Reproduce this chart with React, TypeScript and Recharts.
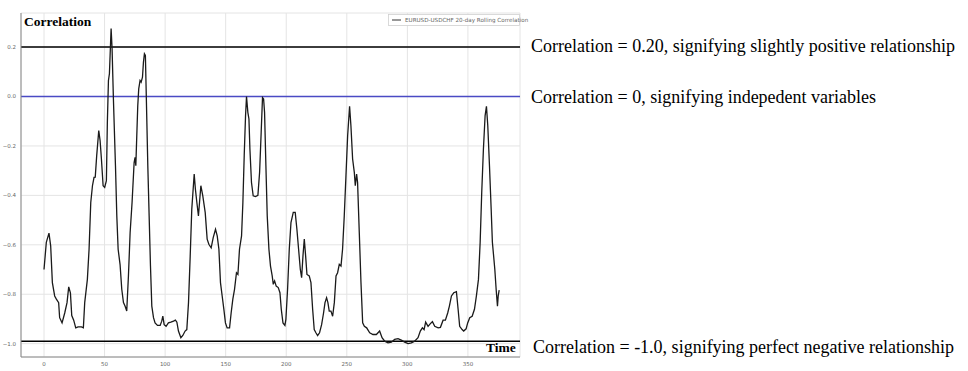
import { LineChart, Line, XAxis, YAxis, CartesianGrid, ReferenceLine } from "recharts";

// 20-day rolling correlation (time step, value)
const timeSteps = [
  0, 1.9, 4.1, 5.5, 6.9, 8.8, 10.2, 12.1, 12.9, 14.9, 17.1, 19, 20.4, 21.8, 22.9, 24.5, 26.2, 28.1, 30.9, 32.5,
  33.6, 35.8, 37.2, 38.6, 40, 41.3, 42.3, 43.5, 45.2, 46.3, 47.4, 48.8, 50.1, 51.5, 52.3, 53.2, 54, 55.4, 56.2, 57.3,
  59, 60.1, 61.2, 62.8, 64.2, 65.6, 66.9, 68.3, 69.7, 71.1, 72.7, 74.4, 75.2, 75.8, 76.6, 77.4, 78.2, 79.3, 80.2, 81.3,
  82.1, 82.9, 83.7, 84.5, 85.7, 86.8, 87.9, 89, 90.4, 91.7, 93.7, 95.9, 97.2, 98.1, 99.2, 100.8, 102.7, 104.7, 106.9, 108.5,
  109.7, 111, 113, 114.6, 116.5, 117.9, 119.3, 120.7, 122, 124, 125, 126.2, 127.5, 128.4, 129.5, 131.1, 133.1, 134.7, 136.1, 138,
  139.7, 141.6, 143, 144.4, 145.7, 147.1, 148.5, 149.8, 151.2, 153.2, 154.5, 155.9, 157.3, 158.9, 160.1, 161.4, 163.1, 164.2, 165.3, 166.4,
  167.2, 168.3, 169.2, 170, 171.3, 172.7, 174.6, 176.6, 178, 179.3, 180.4, 181.3, 182.1, 183.2, 184.3, 185.7, 187, 188.4, 189.3, 190.4,
  191.7, 193.4, 194.8, 195.9, 197.3, 198.9, 199.7, 201.1, 202.5, 203.9, 205.8, 207.4, 208.8, 210.2, 211.6, 212.7, 213.8, 214.9, 216, 217.1,
  219, 220.4, 221.8, 223.1, 224.5, 225.9, 227.5, 229.2, 230.8, 232, 233.3, 234.4, 235.5, 236.9, 238.3, 239.7, 241.1, 242.4, 243.8, 245.2,
  246.5, 247.9, 249.3, 250.7, 252.3, 253.4, 254.8, 256.2, 257, 258.1, 258.9, 260.3, 261.7, 263.1, 264.5, 266.4, 268.9, 271.6, 274.4, 277.1,
  279.1, 281.3, 284, 286.8, 289.5, 292.3, 295, 297.8, 300.6, 303.3, 306, 308.8, 310.7, 312.4, 313.8, 315.1, 317.1, 319, 320.7, 322.6,
  325.4, 327.3, 329.5, 331.4, 333.3, 334.7, 336.4, 338.3, 340.5, 341.9, 343.2, 345.2, 346.5, 348.5, 349.8, 351.5, 353.5, 355.4, 357, 358.7,
  360.1, 361.4, 362.8, 364.2, 365.3, 366.4, 367.8, 369.2, 370.2, 371.1, 372.2, 373.3, 374.4, 375, 375.8,
];

const rollingCorr = [
  -0.7, -0.59, -0.553, -0.604, -0.753, -0.807, -0.82, -0.834, -0.895, -0.916, -0.876, -0.834, -0.77, -0.794, -0.886, -0.905, -0.936, -0.932, -0.932, -0.936,
  -0.834, -0.74, -0.618, -0.429, -0.361, -0.327, -0.326, -0.239, -0.138, -0.178, -0.253, -0.361, -0.368, -0.34, -0.104, 0.065, 0.092, 0.275, 0.193, -0.01,
  -0.28, -0.483, -0.618, -0.68, -0.78, -0.834, -0.848, -0.868, -0.726, -0.55, -0.429, -0.267, -0.246, -0.28, -0.158, -0.037, 0.031, 0.065, 0.058, 0.078,
  0.139, 0.173, 0.166, -0.01, -0.28, -0.483, -0.686, -0.848, -0.895, -0.916, -0.926, -0.926, -0.909, -0.889, -0.923, -0.93, -0.916, -0.913, -0.909, -0.905,
  -0.913, -0.949, -0.976, -0.967, -0.949, -0.943, -0.834, -0.645, -0.456, -0.314, -0.375, -0.429, -0.483, -0.429, -0.361, -0.402, -0.47, -0.577, -0.598, -0.612,
  -0.571, -0.537, -0.564, -0.618, -0.753, -0.807, -0.861, -0.916, -0.936, -0.936, -0.876, -0.82, -0.78, -0.713, -0.72, -0.618, -0.564, -0.429, -0.239, -0.077,
  0.0, -0.064, -0.091, -0.212, -0.348, -0.402, -0.405, -0.4, -0.307, -0.145, -0.004, -0.01, -0.064, -0.28, -0.483, -0.618, -0.686, -0.726, -0.76, -0.746,
  -0.767, -0.773, -0.794, -0.861, -0.916, -0.926, -0.902, -0.78, -0.618, -0.51, -0.469, -0.469, -0.537, -0.618, -0.699, -0.733, -0.645, -0.577, -0.645, -0.72,
  -0.726, -0.753, -0.861, -0.943, -0.956, -0.967, -0.956, -0.923, -0.876, -0.834, -0.814, -0.834, -0.868, -0.868, -0.889, -0.834, -0.726, -0.713, -0.679, -0.686,
  -0.618, -0.483, -0.321, -0.158, -0.04, -0.118, -0.253, -0.307, -0.361, -0.314, -0.348, -0.55, -0.753, -0.916, -0.93, -0.936, -0.956, -0.963, -0.963, -0.949,
  -0.976, -0.99, -0.997, -0.994, -0.983, -0.98, -0.986, -0.994, -1.0, -0.997, -0.99, -0.976, -0.949, -0.936, -0.943, -0.913, -0.93, -0.919, -0.911, -0.93,
  -0.936, -0.934, -0.905, -0.905, -0.876, -0.848, -0.807, -0.794, -0.79, -0.861, -0.93, -0.943, -0.949, -0.94, -0.916, -0.895, -0.889, -0.861, -0.807, -0.74,
  -0.59, -0.388, -0.212, -0.077, -0.04, -0.118, -0.28, -0.456, -0.59, -0.638, -0.699, -0.78, -0.848, -0.807, -0.783,
];

const xTicks = [0, 50, 100, 150, 200, 250, 300, 350];
const yTicks = [-1.0, -0.8, -0.6, -0.4, -0.2, 0.0, 0.2];

const data = timeSteps.map((t, i) => ({ t, corr: rollingCorr[i] }));

const serif = "'Liberation Serif', 'Times New Roman', serif";
const tickStyle = { fontSize: 5.5, fill: "#666", fontFamily: "'DejaVu Sans', sans-serif" };
const noteStyle = { fill: "#000", fontSize: 18, fontFamily: serif };

const fmt = (v: number) => (v < 0 ? "\u2212" + Math.abs(v).toFixed(1) : v.toFixed(1));

export default function App() {
  return (
    <div style={{ position: "absolute", left: 0, top: 0, width: 968, height: 371, background: "#fff" }}>
      <LineChart width={968} height={371} data={data} margin={{ top: 13, right: 448, bottom: 0, left: 0 }}>
        <CartesianGrid stroke="#e4e4e4" strokeWidth={1} />
        <XAxis
          dataKey="t"
          type="number"
          domain={[-19, 393]}
          ticks={xTicks}
          allowDataOverflow
          height={14}
          tickSize={3}
          tickMargin={2}
          tickLine={false}
          axisLine={{ stroke: "#888" }}
          tick={tickStyle}
        />
        <XAxis xAxisId="top" orientation="top" dataKey="t" type="number" domain={[-19, 393]} height={0} tick={false} tickLine={false} axisLine={{ stroke: "#ccc" }} />
        <YAxis
          type="number"
          domain={[-1.054, 0.338]}
          ticks={yTicks}
          allowDataOverflow
          width={21}
          tickSize={3}
          tickMargin={2}
          tickLine={false}
          axisLine={{ stroke: "#888" }}
          tick={tickStyle}
          tickFormatter={fmt}
        />
        <YAxis yAxisId="right" orientation="right" type="number" domain={[-1.054, 0.338]} width={0} tick={false} tickLine={false} axisLine={{ stroke: "#aaa" }} />
        <ReferenceLine
          y={0.2}
          stroke="#000"
          strokeWidth={1.5}
          label={{ value: "Correlation = 0.20, signifying slightly positive relationship", position: "right", offset: 11, dy: -1, ...noteStyle }}
        />
        <ReferenceLine
          y={0}
          stroke="#4a4ac4"
          strokeWidth={1.5}
          label={{ value: "Correlation = 0, signifying indepedent variables", position: "right", offset: 11, ...noteStyle }}
        />
        <ReferenceLine
          y={-0.99}
          stroke="#000"
          strokeWidth={1.5}
          label={{ value: "Correlation = -1.0, signifying perfect negative relationship", position: "right", offset: 13, dy: 5, ...noteStyle }}
        />
        <Line type="linear" dataKey="corr" stroke="#1a1a1a" strokeWidth={1.3} dot={false} isAnimationActive={false} />
      </LineChart>

      {/* titles and legend drawn over the plot */}
      <svg width={968} height={371} style={{ position: "absolute", left: 0, top: 0, pointerEvents: "none" }}>
        <text x={24} y={26} fontFamily={serif} fontWeight="bold" fontSize={13.5} fill="#000">Correlation</text>
        <text x={486} y={351.5} fontFamily={serif} fontWeight="bold" fontSize={13.5} fill="#000">Time</text>
        <rect x={388.5} y={14.5} width={131} height={11} fill="#fff" stroke="#d0d0d0" strokeWidth={0.8} />
        <line x1={392} y1={20} x2={401} y2={20} stroke="#333" strokeWidth={1} />
        <text x={405} y={22} fontSize={5.6} fill="#666" fontFamily="'DejaVu Sans', sans-serif">EURUSD-USDCHF 20-day Rolling Correlation</text>
      </svg>
    </div>
  );
}
